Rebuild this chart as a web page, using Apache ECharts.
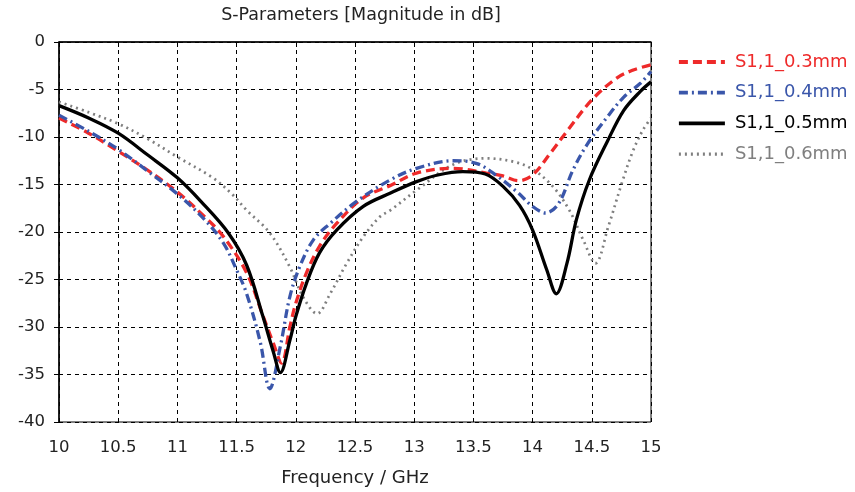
<!DOCTYPE html>
<html><head><meta charset="utf-8">
<script src="https://cdn.jsdelivr.net/npm/echarts@6/dist/echarts.min.js"></script>
<style>html,body{margin:0;padding:0;background:#fff}#c{width:855px;height:492px}</style>
</head><body><div id="c"></div>
<script>
var titleText = 'S-Parameters [Magnitude in dB]';
var xName = 'Frequency / GHz';
var names = ['S1,1_0.3mm', 'S1,1_0.4mm', 'S1,1_0.5mm', 'S1,1_0.6mm'];
var colors = ['#ee2a2a', '#3a56aa', '#000000', '#7f7f7f'];

var f03 = [10,10.25,10.5,10.75,11,11.23,11.39,11.585,11.725,11.81,11.88,11.95,12,12.09,12.2,12.345,12.57,12.8,13.02,13.33,13.61,13.75,13.88,14,14.15,14.29,14.5,14.71,14.85,15];
var s03 = [-8,-9.6,-11.5,-13.5,-15.8,-18.4,-20.5,-24.3,-28.9,-31.7,-33.8,-30,-27.5,-24.3,-21.5,-19.1,-16.4,-15.1,-13.8,-13.3,-13.8,-14.1,-14.6,-14,-11.7,-9.4,-6.1,-3.8,-2.95,-2.4];

var f04 = [10,10.25,10.5,10.75,11,11.23,11.39,11.5,11.585,11.7,11.78,11.87,11.95,12.035,12.15,12.29,12.51,12.8,13.02,13.33,13.53,13.7,13.87,14,14.11,14.22,14.34,14.46,14.63,14.77,14.91,15];
var s04 = [-7.7,-9.4,-11.3,-13.6,-16,-18.7,-21.2,-24,-26.5,-31.6,-36.5,-32,-26.8,-23.6,-20.8,-19.1,-16.8,-14.5,-13.3,-12.5,-12.8,-14.1,-15.8,-17.3,-18,-17,-13.5,-10.8,-7.9,-5.8,-4.35,-3.1];

var f05 = [10,10.25,10.5,10.75,11,11.2,11.43,11.585,11.72,11.81,11.87,11.95,12,12.09,12.2,12.345,12.57,12.8,13.02,13.2,13.41,13.6,13.75,13.89,14,14.12,14.2,14.29,14.37,14.48,14.63,14.77,14.91,15];
var s05 = [-6.7,-8,-9.6,-11.9,-14.3,-16.8,-20.1,-23.5,-28.8,-32.6,-34.8,-31.4,-28.9,-25.4,-22.2,-19.8,-17.3,-15.9,-14.7,-14,-13.65,-13.9,-15.2,-17.2,-19.8,-24,-26.5,-23.3,-18.7,-14.5,-10.5,-7.2,-5.2,-4.2];

var f06 = [10,10.25,10.5,10.75,11,11.3,11.46,11.585,11.78,11.95,12.06,12.18,12.29,12.43,12.57,12.71,12.8,13.02,13.33,13.61,13.84,14,14.17,14.31,14.43,14.53,14.64,14.76,14.85,14.93,15];
var s06 = [-6.3,-7.4,-8.6,-10.2,-12.1,-14.3,-16,-17.7,-20.1,-23.7,-26.8,-28.6,-26.5,-23.3,-20.5,-18.4,-17.7,-15.6,-12.9,-12.25,-12.6,-13.4,-15.2,-17.7,-20.9,-23.3,-19.4,-14.6,-11.4,-9.3,-8];

function pairs(f, s){ return f.map(function(v,i){ return [v, s[i]]; }); }
var freqs = [f03, f04, f05, f06];
var vals = [s03, s04, s05, s06];
var lineTypes = [[9,5],[9,4,2,4],'solid',[2,4]];
var widths = [3.3,3.3,3.3,2.7];

var chart = echarts.init(document.getElementById('c'));
var font = 'DejaVu Sans';
chart.setOption({
  animation:false,
  title:{text:titleText,left:356,top:1,textAlign:'center',textStyle:{fontFamily:font,fontSize:17.5,fontWeight:'normal',color:'#222'}},
  grid:{left:59,right:204,top:42,bottom:70,show:true,borderColor:'#000',borderWidth:1,backgroundColor:'transparent',outerBoundsMode:'none',containLabel:false},
  legend:{
    orient:'vertical',left:672,top:48,itemGap:12.7,itemWidth:46,itemHeight:14,
    itemStyle:{opacity:0},
    textStyle:{fontFamily:font,fontSize:18,lineHeight:18,padding:[0,0,0,5]},
    data:names.map(function(n,i){return {name:n,textStyle:{color:colors[i]},
      lineStyle:{color:colors[i],width:widths[i]+0.5,type:lineTypes[i]}};})
  },
  xAxis:{type:'value',min:10,max:15,interval:0.5,
    name:xName,nameLocation:'middle',nameGap:47,nameTextStyle:{fontFamily:font,fontSize:18,color:'#222'},
    axisLine:{lineStyle:{color:'#000',width:1.5}},axisTick:{show:true,length:5,lineStyle:{color:'#000'}},
    axisLabel:{fontFamily:font,fontSize:16.5,color:'#222',margin:17},
    splitLine:{show:true,lineStyle:{color:'#000',type:[4,4],width:1}}},
  yAxis:{type:'value',min:-40,max:0,interval:5,
    axisLine:{show:true,lineStyle:{color:'#000',width:1.5}},axisTick:{show:true,length:5,lineStyle:{color:'#000'}},
    axisLabel:{fontFamily:font,fontSize:16.5,color:'#222',margin:14},
    splitLine:{show:true,lineStyle:{color:'#000',type:[4,4],width:1}}},
  series:names.map(function(n,i){
    return {name:n,type:'line',data:pairs(freqs[i],vals[i]),smooth:0.35,symbol:'none',
      z:[3,4,5,2][i],
      lineStyle:{color:colors[i],width:widths[i],type:lineTypes[i]},itemStyle:{color:colors[i]}};
  })
});
</script></body></html>
